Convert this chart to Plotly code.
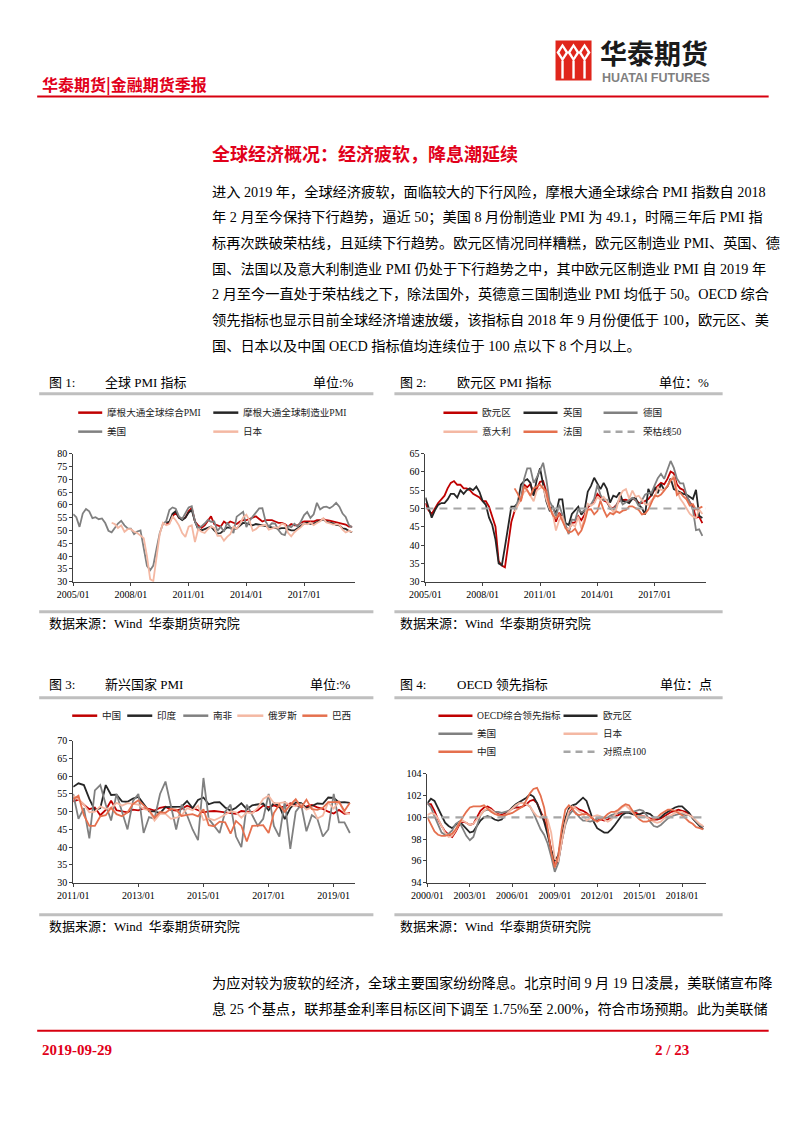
import pandas as pd
import plotly.graph_objects as go

W, H = 802, 1133          # page (browser window) size
OFF = 8                   # default body margin of the html page
FW, FH = W - 2 * OFF, H - 2 * OFF
# observed mapping page px -> photographed px (x' = SX0 + SX*x, y' = SY0 + SY*y)
SX0, SX, SY0, SY = 16.0, 0.979, 6.5, 0.99

# ---------------- data ----------------
f1_us_start = '2005-01-01'
f1_us = [
    56.4, 55.2, 51.4, 56.6, 58.4, 57.5,
    54.8, 55.2, 54.4, 54.7, 52.9, 49.9,
    49.3, 50.9, 52.7, 53.8, 52.0, 50.8,
    50.7, 48.6, 49.6, 50.0, 43.5, 36.2,
    34.5, 36.3, 42.8, 48.9, 52.6, 53.6,
    58.0, 59.0, 58.5, 55.5, 54.5, 56.5,
    59.0, 59.5, 53.5, 50.9, 51.6, 52.7,
    54.1, 53.4, 53.5, 49.8, 51.5, 49.5,
    53.1, 51.3, 49.0, 55.4, 56.2, 57.3,
    51.3, 53.7, 55.4, 57.1, 58.6, 58.7,
    53.5, 51.5, 52.8, 52.7, 50.2, 48.6,
    48.2, 51.8, 51.3, 52.6, 51.5, 53.5,
    56.0, 57.2, 54.9, 56.3, 60.8, 58.2,
    59.1, 59.3, 58.7, 59.5, 60.8, 59.3,
    56.6, 55.3, 52.1, 51.2,
]
f1_jpm_start = '2009-11-01'
f1_jpm_comp = [
    52.3,
    53.0, 55.5, 57.0, 55.0, 54.5, 55.0,
    57.5, 58.8, 53.5, 52.0, 51.0, 52.0,
    54.0, 55.5, 52.5, 52.0, 51.5, 53.5,
    52.5, 53.5, 53.0, 52.5, 53.5, 54.0,
    54.0, 54.5, 55.0, 55.5, 54.5, 53.5,
    54.0, 54.0, 54.0, 53.5, 53.0, 53.0,
    52.5, 51.5, 52.5, 52.0, 52.0, 53.0,
    53.5, 53.5, 53.5, 53.5, 54.0, 54.0,
    54.5, 54.0, 53.8, 53.5, 53.0, 53.0,
    52.5, 52.3, 51.5, 51.5,
]
f1_jpm_mfg = [
    53.0,
    53.5, 56.5, 57.5, 55.0, 54.0, 55.0,
    57.0, 58.0, 53.5, 50.5, 50.0, 50.5,
    51.0, 51.5, 50.0, 48.8, 49.0, 50.0,
    51.2, 51.0, 50.5, 50.8, 51.8, 53.0,
    52.8, 52.5, 52.0, 52.5, 52.2, 51.8,
    51.7, 51.3, 51.2, 51.0, 50.6, 50.9,
    50.9, 50.5, 50.0, 50.0, 51.0, 52.0,
    52.7, 53.0, 52.6, 52.7, 53.3, 54.0,
    54.4, 53.4, 53.1, 52.8, 52.2, 52.0,
    50.8, 50.6, 49.8, 49.3,
]
f1_jp_start = '2007-01-01'
f1_jp = [
    53.0, 52.5, 51.0, 52.0, 49.5, 50.5,
    50.5, 49.5, 49.0, 48.0, 47.0, 40.0,
    31.0, 30.2, 40.5, 48.5, 53.0, 52.0,
    52.5, 55.5, 54.0, 52.0, 49.0, 47.5,
    51.5, 52.0, 45.5, 50.5, 49.5, 49.0,
    50.5, 51.5, 51.0, 47.9, 48.0, 46.0,
    47.5, 48.5, 51.5, 50.7, 52.5, 55.1,
    56.2, 53.9, 49.9, 50.5, 51.7, 52.0,
    52.2, 50.3, 50.9, 51.2, 51.0, 52.6,
    52.3, 49.1, 47.7, 49.3, 50.4, 51.3,
    52.7, 52.4, 53.1, 52.1, 52.9, 53.6,
    54.8, 53.1, 52.8, 52.3, 52.5, 52.2,
    50.3, 49.2, 49.8, 49.4,
]

f2_start = '2005-01-01'
f2_ez = [
    51.5, 49.5, 48.5, 50.2, 51.5, 52.5,
    53.5, 55.5, 57.0, 57.5, 56.5, 56.5,
    55.5, 55.5, 55.0, 54.0, 53.5, 53.0,
    52.0, 52.0, 50.5, 47.5, 45.0, 35.6,
    34.4, 33.9, 40.7, 46.3, 49.3, 51.2,
    52.4, 56.6, 55.8, 56.7, 53.7, 55.3,
    57.3, 57.5, 54.6, 50.4, 48.5, 46.4,
    48.8, 47.7, 45.1, 44.0, 46.1, 46.2,
    47.9, 46.8, 48.3, 50.3, 51.1, 51.6,
    54.0, 53.0, 52.2, 51.8, 50.3, 50.1,
    51.0, 52.2, 52.2, 52.4, 52.0, 52.8,
    52.3, 51.6, 51.5, 52.0, 52.6, 53.7,
    55.2, 56.2, 57.0, 56.6, 58.1, 60.1,
    59.6, 56.6, 55.5, 55.1, 53.2, 51.8,
    50.5, 47.5, 47.7, 46.0,
]
f2_uk = [
    53.0, 50.5, 47.5, 49.5, 51.0, 51.5,
    51.5, 52.5, 54.0, 54.0, 53.0, 55.0,
    54.0, 55.0, 55.5, 55.0, 56.0, 54.5,
    52.0, 51.0, 47.5, 45.5, 41.5, 35.0,
    34.5, 39.5, 45.5, 50.5, 50.5, 51.5,
    56.5, 57.5, 58.0, 57.0, 53.5, 58.0,
    61.0, 56.5, 52.0, 49.5, 50.5, 48.5,
    52.5, 52.5, 46.0, 45.5, 48.5, 49.5,
    50.5, 48.3, 49.5, 54.6, 56.2, 58.4,
    56.7, 55.3, 57.0, 55.4, 51.6, 53.5,
    53.1, 54.4, 52.0, 51.9, 51.5, 52.7,
    52.9, 51.0, 50.1, 48.3, 55.4, 53.4,
    55.9, 54.2, 56.7, 55.1, 56.0, 58.2,
    55.3, 54.9, 54.4, 54.0, 53.8, 53.1,
    52.6, 55.1, 48.0, 47.4,
]
f2_late_start = '2009-09-01'
f2_de = [
    49.5, 52.0,
    52.5, 58.0, 61.0, 61.0, 57.0, 58.5,
    60.5, 62.5, 58.0, 52.0, 50.3, 47.9,
    51.0, 48.4, 45.2, 43.0, 47.0, 46.8,
    49.8, 49.0, 49.4, 50.7, 51.1, 52.7,
    56.5, 53.7, 52.3, 52.4, 49.9, 49.5,
    50.9, 52.8, 51.1, 51.8, 52.3, 52.9,
    52.3, 50.7, 52.1, 53.8, 54.3, 54.3,
    56.4, 58.3, 59.5, 58.1, 60.6, 63.0,
    61.1, 58.2, 56.9, 56.9, 53.7, 51.8,
    49.7, 44.1, 44.3, 42.5,
]
f2_it = [
    49.0, 51.0,
    52.5, 54.5, 55.0, 53.5, 52.0, 55.0,
    55.5, 56.0, 52.5, 50.0, 48.5, 44.0,
    46.8, 47.9, 44.6, 44.3, 45.7, 45.1,
    47.8, 44.5, 47.3, 51.3, 50.8, 51.4,
    53.1, 52.4, 53.2, 51.9, 50.7, 49.0,
    49.9, 53.3, 54.8, 55.3, 52.7, 54.9,
    53.2, 53.5, 52.4, 51.2, 51.0, 52.2,
    53.0, 55.7, 55.1, 55.1, 56.3, 57.8,
    59.0, 55.1, 52.7, 51.5, 50.0, 48.6,
    47.8, 47.4, 49.7, 48.5,
]
f2_fr = [
    55.5, 54.0,
    52.0, 56.0, 55.0, 53.5, 55.5, 56.0,
    56.5, 55.5, 54.7, 50.5, 48.2, 47.3,
    48.5, 46.7, 44.7, 43.4, 43.7, 44.5,
    42.9, 44.0, 46.4, 49.7, 49.8, 48.4,
    49.3, 52.1, 49.6, 47.8, 48.8, 48.4,
    49.2, 48.8, 49.4, 49.6, 50.6, 50.6,
    50.0, 49.6, 48.4, 48.6, 49.7, 51.7,
    53.6, 53.3, 53.8, 54.9, 56.1, 57.7,
    58.4, 53.7, 54.4, 53.3, 52.5, 50.8,
    51.2, 49.7, 50.0, 50.5,
]
f2_boom_bust = 50

f3_start = '2011-01-01'
f3_cn = [
    52.9, 53.4, 52.0, 50.7, 51.2, 49.0,
    50.5, 53.1, 50.4, 50.1, 49.8, 50.6,
    50.4, 50.9, 50.8, 50.3, 51.1, 51.4,
    50.5, 50.3, 50.8, 51.7, 51.1, 50.3,
    49.8, 50.1, 50.2, 50.0, 49.8, 49.6,
    49.4, 50.2, 50.1, 49.9, 50.4, 51.7,
    51.3, 51.8, 51.2, 51.4, 52.4, 51.8,
    51.3, 51.5, 51.9, 51.2, 50.8, 50.0,
    49.5, 50.5, 49.4, 49.7,
]
f3_in = [
    57.0, 58.0, 57.5, 53.6, 50.4, 51.0,
    57.5, 54.7, 54.8, 52.9, 52.8, 53.7,
    54.2, 52.0, 50.1, 50.1, 49.6, 51.3,
    51.4, 51.3, 51.4, 53.0, 51.0, 53.3,
    54.0, 52.1, 52.6, 52.7, 51.2, 50.3,
    51.1, 52.4, 50.7, 51.8, 52.1, 52.3,
    50.4, 52.5, 51.6, 47.9, 51.0, 52.6,
    52.4, 51.0, 51.6, 52.3, 52.2, 54.0,
    53.9, 52.6, 52.7, 52.5,
]
f3_za = [
    55.0, 48.0, 51.0, 42.5, 56.0, 57.5,
    52.0, 47.5, 55.0, 50.0, 45.0, 53.0,
    55.0, 44.0, 48.5, 48.0, 55.0, 58.5,
    52.0, 45.0, 52.0, 49.0, 45.0, 42.0,
    59.5, 48.0, 46.0, 44.0, 50.0, 52.0,
    43.0, 40.0, 52.0, 49.0, 46.0, 48.0,
    55.0, 46.0, 43.0, 53.0, 39.5, 50.0,
    52.0, 44.5, 49.0, 48.0, 43.0, 45.0,
    55.0, 47.0, 47.0, 44.0,
]
f3_ru = [
    54.5, 53.5, 52.0, 49.8, 50.0, 51.5,
    50.8, 51.0, 52.5, 51.7, 52.4, 52.2,
    52.0, 50.8, 50.4, 47.5, 49.4, 49.4,
    48.0, 48.3, 48.9, 51.0, 50.4, 51.7,
    47.6, 48.1, 47.6, 48.3, 49.1, 50.1,
    49.8, 48.3, 49.8, 49.5, 51.1, 53.6,
    54.5, 52.4, 52.4, 52.7, 51.9, 51.5,
    52.1, 50.6, 51.3, 48.1, 48.9, 52.6,
    50.9, 52.8, 49.8, 49.3,
]
f3_br = [
    53.5, 54.5, 49.0, 46.0, 46.0, 48.7,
    49.0, 51.1, 49.3, 48.7, 49.8, 52.2,
    53.2, 51.8, 50.4, 48.3, 49.9, 49.7,
    50.8, 50.6, 48.8, 49.1, 49.3, 48.7,
    50.7, 46.2, 45.9, 47.2, 47.0, 43.8,
    47.4, 46.0, 41.6, 46.0, 46.0, 46.2,
    44.0, 49.6, 52.0, 50.0, 51.9, 53.5,
    51.2, 53.4, 50.7, 50.5, 51.1, 52.7,
    52.7, 52.8, 50.2, 52.5,
]

f4_start = '2000-01-01'
f4_oecd = [
    101.2, 101.2, 100.6, 99.8,  99.2, 98.7, 98.4, 98.2,
    98.7, 99.3, 99.6, 99.5,     99.3, 99.4, 100.0, 100.6,
    100.9, 101.0, 100.8, 100.5, 100.3, 100.2, 100.4, 100.6,
    100.8, 100.9, 100.9, 101.0, 101.2, 101.5, 101.6, 101.3,
    100.6, 99.8, 98.8, 97.0,    95.6, 96.0, 97.8, 99.6,
    100.5, 100.9, 100.9, 100.7, 100.6, 100.4, 100.1, 99.8,
    99.7, 99.8, 99.7, 99.8,     100.0, 100.1, 100.2, 100.4,
    100.5, 100.5, 100.5, 100.4, 100.2, 100.1, 100.0, 99.9,
    99.8, 99.8, 99.9, 100.1,    100.3, 100.5, 100.6, 100.7,
    100.6, 100.5, 100.3, 100.0, 99.6, 99.3, 99.1,
]
f4_ez = [
    101.3, 101.7, 101.5, 100.8, 100.1, 99.5, 99.2, 99.0,
    99.3, 99.6, 99.3, 98.9,     98.6, 98.7, 99.2, 99.7,
    100.0, 100.1, 100.0, 99.8,  99.7, 99.8, 100.2, 100.6,
    100.9, 101.2, 101.4, 101.6, 101.8, 102.1, 101.9, 101.3,
    100.5, 99.6, 98.4, 97.0,    96.0, 96.5, 98.3, 99.9,
    100.8, 101.1, 101.2, 101.5, 101.8, 101.5, 100.5, 99.6,
    99.0, 98.8, 98.6, 98.6,     98.9, 99.3, 99.8, 100.2,
    100.4, 100.4, 100.3, 100.2, 100.3, 100.4, 100.4, 100.3,
    100.0, 99.9, 100.0, 100.3,  100.5, 100.7, 100.9, 101.0,
    101.0, 100.7, 100.4, 99.9,  99.5, 99.2, 98.9,
]
f4_us = [
    101.3, 100.9, 100.1, 99.3,  98.6, 98.4, 98.5, 98.8,
    99.4, 99.6, 99.0, 98.3,     97.9, 98.2, 99.2, 100.2,
    100.6, 100.7, 100.6, 100.5, 100.5, 100.4, 100.5, 100.6,
    100.8, 101.0, 101.3, 101.3, 101.2, 101.0, 100.4, 99.6,
    98.9, 98.4, 97.6, 96.4,     95.0, 95.8, 97.8, 99.3,
    100.2, 100.6, 100.4, 100.0, 99.7, 99.7, 99.6, 99.7,
    99.9, 100.0, 99.9, 100.0,   100.2, 100.3, 100.4, 100.5,
    100.5, 100.5, 100.5, 100.6, 100.7, 100.6, 100.2, 99.6,
    99.2, 99.1, 99.3, 99.6,     99.9, 100.1, 100.2, 100.3,
    100.3, 100.2, 100.2, 100.0, 99.6, 99.3, 99.1,
]
f4_jp = [
    100.2, 100.4, 100.3, 99.9,  99.2, 98.6, 98.2, 98.3,
    98.8, 99.5, 99.7, 99.5,     99.3, 99.4, 99.8, 100.3,
    100.6, 100.8, 100.7, 100.4, 100.2, 100.1, 100.2, 100.5,
    100.8, 101.1, 101.3, 101.3, 101.2, 101.0, 100.5, 100.1,
    100.0, 100.2, 99.8, 98.6,   96.2, 96.0, 97.8, 99.5,
    100.6, 101.0, 100.8, 100.5, 100.3, 99.7, 99.9, 100.1,
    100.2, 100.1, 99.8, 99.6,   99.8, 100.2, 100.6, 100.9,
    101.1, 100.8, 100.4, 100.1, 100.1, 100.1, 100.0, 99.8,
    99.6, 99.5, 99.6, 99.9,     100.1, 100.2, 100.4, 100.5,
    100.5, 100.3, 100.2, 100.0, 99.7, 99.4, 99.2,
]
f4_cn = [
    100.0, 99.3, 98.7, 98.4,    98.3, 98.3, 98.4, 98.5,
    98.9, 99.5, 100.0, 100.5,   100.9, 101.0, 101.0, 101.0,
    101.1, 100.8, 100.5, 100.3, 100.2, 100.1, 100.2, 100.3,
    100.4, 100.6, 100.8, 101.0, 101.6, 102.2, 102.6, 102.7,
    102.0, 100.9, 99.0, 96.8,   95.4, 96.5, 99.0, 100.7,
    101.1, 100.8, 100.3, 100.2, 100.3, 100.3, 100.1, 99.8,
    99.6, 99.8, 100.0, 100.3,   100.5, 100.5, 100.7, 101.0,
    101.2, 101.1, 100.6, 100.1, 99.8, 99.6, 99.6, 99.7,
    99.8, 100.0, 100.3, 100.5,  100.7, 100.7, 100.6, 100.4,
    100.2, 99.9, 99.6, 99.4,    99.1, 99.0, 98.9,
]
f4_ref = 100

f1_xticks = ['2005/01', '2008/01', '2011/01', '2014/01', '2017/01']
f1_yticks = [30, 35, 40, 45, 50, 55, 60, 65, 70, 75, 80]
f2_xticks = ['2005/01', '2008/01', '2011/01', '2014/01', '2017/01']
f2_yticks = [30, 35, 40, 45, 50, 55, 60, 65]
f3_xticks = ['2011/01', '2013/01', '2015/01', '2017/01', '2019/01']
f3_yticks = [30, 35, 40, 45, 50, 55, 60, 65, 70]
f4_xticks = ['2000/01', '2003/01', '2006/01', '2009/01', '2012/01', '2015/01', '2018/01']
f4_yticks = [94, 96, 98, 100, 102, 104]

RED = '#C00000'
BLACK = '#262626'
GRAY = '#808080'
PINK = '#F4B8A3'
ORANGE = '#E5704E'
DASH = '#A6A6A6'
BRAND = '#E1001A'
FONT = 'Liberation Serif, Noto Sans CJK SC'
CJK = 'Noto Sans CJK SC'


def X(t):
    page = (t - SX0) / SX
    return (page - OFF) / FW


def Y(t):
    page = (t - SY0) / SY
    return 1 - (page - OFF) / FH


def bim(start, vals):
    return pd.date_range(start, periods=len(vals), freq='2MS')


def qtr(start, vals):
    return pd.date_range(start, periods=len(vals), freq='QS')


def tickdates(labels):
    return [lab.replace('/', '-') + '-01' for lab in labels]


fig = go.Figure()
LW = 1.8


def add(xs, ys, color, ax, width=LW, dash=None):
    fig.add_trace(go.Scatter(x=xs, y=ys, mode='lines',
                             line=dict(color=color, width=width, dash=dash),
                             xaxis='x' + ax, yaxis='y' + ax,
                             showlegend=False, hoverinfo='skip'))


add(bim(f1_jpm_start, f1_jpm_comp), f1_jpm_comp, RED, '')
add(bim(f1_jpm_start, f1_jpm_mfg), f1_jpm_mfg, BLACK, '')
add(bim(f1_us_start, f1_us), f1_us, GRAY, '')
add(bim(f1_jp_start, f1_jp), f1_jp, PINK, '')
add(bim(f2_start, f2_ez), f2_ez, RED, '2')
add(bim(f2_start, f2_uk), f2_uk, BLACK, '2')
add(bim(f2_late_start, f2_de), f2_de, GRAY, '2')
add(bim(f2_late_start, f2_it), f2_it, PINK, '2')
add(bim(f2_late_start, f2_fr), f2_fr, ORANGE, '2')
f2_range = ['2005-01-01', '2019-09-01']
add(f2_range, [f2_boom_bust, f2_boom_bust], DASH, '2', width=2.2, dash='8px,6px')
add(bim(f3_start, f3_cn), f3_cn, RED, '3')
add(bim(f3_start, f3_in), f3_in, BLACK, '3')
add(bim(f3_start, f3_za), f3_za, GRAY, '3')
add(bim(f3_start, f3_ru), f3_ru, PINK, '3')
add(bim(f3_start, f3_br), f3_br, ORANGE, '3')
add(qtr(f4_start, f4_oecd), f4_oecd, RED, '4')
add(qtr(f4_start, f4_ez), f4_ez, BLACK, '4')
add(qtr(f4_start, f4_us), f4_us, GRAY, '4')
add(qtr(f4_start, f4_jp), f4_jp, PINK, '4')
add(qtr(f4_start, f4_cn), f4_cn, ORANGE, '4')
f4_range = ['2000-01-01', '2019-09-01']
add(f4_range, [f4_ref, f4_ref], DASH, '4', width=2.2, dash='8px,6px')

axis_common = dict(showgrid=False, zeroline=False, showline=True, linecolor='#404040',
                   linewidth=1, ticks='outside', ticklen=3, tickcolor='#404040',
                   tickfont=dict(family='Liberation Serif', size=10, color='#000'))


def xax(x0, x1, rng, labels, anchor):
    return dict(axis_common, type='date', domain=[X(x0), X(x1)], range=rng,
                tickvals=tickdates(labels), ticktext=labels, anchor=anchor)


def yax(top, bot, rng, ticks, anchor):
    return dict(axis_common, domain=[Y(bot), Y(top)], range=rng,
                tickvals=ticks, ticktext=[str(t) for t in ticks], anchor=anchor)


fig.update_layout(
    xaxis=xax(73, 355, ['2005-01-01', '2019-09-01'], f1_xticks, 'y'),
    yaxis=yax(454, 582, [30, 80], f1_yticks, 'x'),
    xaxis2=xax(425, 705, f2_range, f2_xticks, 'y2'),
    yaxis2=yax(454, 582, [30, 65], f2_yticks, 'x2'),
    xaxis3=xax(73, 355, ['2011-01-01', '2019-09-01'], f3_xticks, 'y3'),
    yaxis3=yax(741, 883, [30, 70], f3_yticks, 'x3'),
    xaxis4=xax(427, 705, f4_range, f4_xticks, 'y4'),
    yaxis4=yax(774, 883, [94, 104], f4_yticks, 'x4'),
)

shapes = []
annots = []


def text(x, y, s, size=13, color='#000', anchor='left', family=FONT, bold=False):
    annots.append(dict(xref='paper', yref='paper', x=X(x), y=Y(y), text=s,
                       xanchor=anchor, yanchor='middle', showarrow=False,
                       font=dict(family=family, size=size, color=color,
                                 weight='bold' if bold else 'normal')))


def hline(x0, x1, y, color, width):
    shapes.append(dict(type='line', xref='paper', yref='paper', x0=X(x0), x1=X(x1),
                       y0=Y(y), y1=Y(y), line=dict(color=color, width=width)))


def legend_item(x0, x1, y, color, label, dash=None):
    shapes.append(dict(type='line', xref='paper', yref='paper', x0=X(x0), x1=X(x1),
                       y0=Y(y), y1=Y(y), line=dict(color=color, width=2.5, dash=dash)))
    text(x1 + 3, y, label, size=9.6, color='#222')


def path(pts):
    return 'M ' + ' L '.join(f'{X(a):.5f},{Y(b):.5f}' for a, b in pts) + ' Z'


LOGO = '#E0261C'
shapes.append(dict(type='rect', xref='paper', yref='paper', x0=X(555), x1=X(591),
                   y0=Y(81), y1=Y(41), fillcolor=LOGO, line=dict(width=0)))
for cx in (562, 573, 584):
    shapes.append(dict(type='path', xref='paper', yref='paper',
                       path=path([(cx, 44), (cx + 6, 53), (cx, 62), (cx - 6, 53)]),
                       fillcolor='white', line=dict(width=0)))
    shapes.append(dict(type='path', xref='paper', yref='paper',
                       path=path([(cx, 48), (cx + 3, 53), (cx, 58), (cx - 3, 53)]),
                       fillcolor=LOGO, line=dict(width=0)))
    shapes.append(dict(type='rect', xref='paper', yref='paper', x0=X(cx - 1.2), x1=X(cx + 1.2),
                       y0=Y(79), y1=Y(61), fillcolor='white', line=dict(width=0)))
text(597, 53, '华泰期货', size=27, color='#1a1a1a', family=CJK, bold=True)
text(599, 78, 'HUATAI FUTURES', size=12.5, color='#7f7f7f', family='Liberation Sans', bold=True)
text(40, 84, '华泰期货|金融期货季报', size=16, color=BRAND, family=CJK, bold=True)
hline(37, 768, 97, '#D7000F', 2)

text(210, 153, '全球经济概况：经济疲软，降息潮延续', size=18, color=BRAND, family=CJK, bold=True)

para1 = [
    '进入 2019 年，全球经济疲软，面临较大的下行风险，摩根大通全球综合 PMI 指数自 2018',
    '年 2 月至今保持下行趋势，逼近 50；美国 8 月份制造业 PMI 为 49.1，时隔三年后 PMI 指',
    '标再次跌破荣枯线，且延续下行趋势。欧元区情况同样糟糕，欧元区制造业 PMI、英国、德',
    '国、法国以及意大利制造业 PMI 仍处于下行趋势之中，其中欧元区制造业 PMI 自 2019 年',
    '2 月至今一直处于荣枯线之下，除法国外，英德意三国制造业 PMI 均低于 50。OECD 综合',
    '领先指标也显示目前全球经济增速放缓，该指标自 2018 年 9 月份便低于 100，欧元区、美',
    '国、日本以及中国 OECD 指标值均连续位于 100 点以下 8 个月以上。',
]
for i, line in enumerate(para1):
    text(210, 192 + i * 25.7, line, size=14.2)

para2 = [
    '为应对较为疲软的经济，全球主要国家纷纷降息。北京时间 9 月 19 日凌晨，美联储宣布降',
    '息 25 个基点，联邦基金利率目标区间下调至 1.75%至 2.00%，符合市场预期。此为美联储',
]
for i, line in enumerate(para2):
    text(210, 983 + i * 26, line, size=14.2)

panels = [
    (47, 103, 356, 383, 39, 373, 394, 612, 624, '图 1:', '全球 PMI 指标', '单位:%'),
    (398, 455, 710, 383, 394, 722, 394, 612, 624, '图 2:', '欧元区 PMI 指标', '单位：%'),
    (47, 103, 353, 685, 39, 373, 698, 915, 927, '图 3:', '新兴国家 PMI', '单位:%'),
    (398, 455, 713, 685, 394, 722, 698, 915, 927, '图 4:', 'OECD 领先指标', '单位：点'),
]
for (xa, xb, xr, ty, l0, l1, ly0, ly1, sy, a, b, c) in panels:
    text(xa, ty, a)
    text(xb, ty, b)
    text(xr, ty, c, anchor='right')
    hline(l0, l1, ly0, '#BFBFBF', 3)
    hline(l0, l1, ly1, '#BFBFBF', 3)
    text(xa, sy, '数据来源：Wind  华泰期货研究院')

legend_item(78, 102, 413, RED, '摩根大通全球综合PMI')
legend_item(213, 238, 413, BLACK, '摩根大通全球制造业PMI')
legend_item(78, 102, 432, GRAY, '美国')
legend_item(213, 238, 432, PINK, '日本')

legend_item(443, 477, 413, RED, '欧元区')
legend_item(523, 557, 413, BLACK, '英国')
legend_item(603, 637, 413, GRAY, '德国')
legend_item(443, 477, 432, PINK, '意大利')
legend_item(523, 557, 432, ORANGE, '法国')
legend_item(603, 637, 432, DASH, '荣枯线50', dash='7px,5px')

legend_item(72, 97, 716, RED, '中国')
legend_item(127, 152, 716, BLACK, '印度')
legend_item(183, 208, 716, GRAY, '南非')
legend_item(237, 263, 716, PINK, '俄罗斯')
legend_item(302, 327, 716, ORANGE, '巴西')

legend_item(438, 472, 716, RED, 'OECD综合领先指标')
legend_item(563, 597, 716, BLACK, '欧元区')
legend_item(438, 472, 734, GRAY, '美国')
legend_item(563, 597, 734, PINK, '日本')
legend_item(438, 472, 752, ORANGE, '中国')
legend_item(563, 597, 752, DASH, '对照点100', dash='7px,5px')

hline(37, 768, 1031, '#D7000F', 2)
text(40, 1050, '2019-09-29', size=15, color=BRAND, family='Liberation Serif', bold=True)
text(690, 1050, '2 / 23', size=15, color=BRAND, family='Liberation Serif', bold=True, anchor='right')

fig.update_layout(
    width=FW, height=FH, autosize=False,
    margin=dict(l=0, r=0, t=0, b=0),
    paper_bgcolor='white', plot_bgcolor='white',
    showlegend=False, hovermode=False,
    shapes=shapes, annotations=annots,
)

fig.write_html('out.html')
